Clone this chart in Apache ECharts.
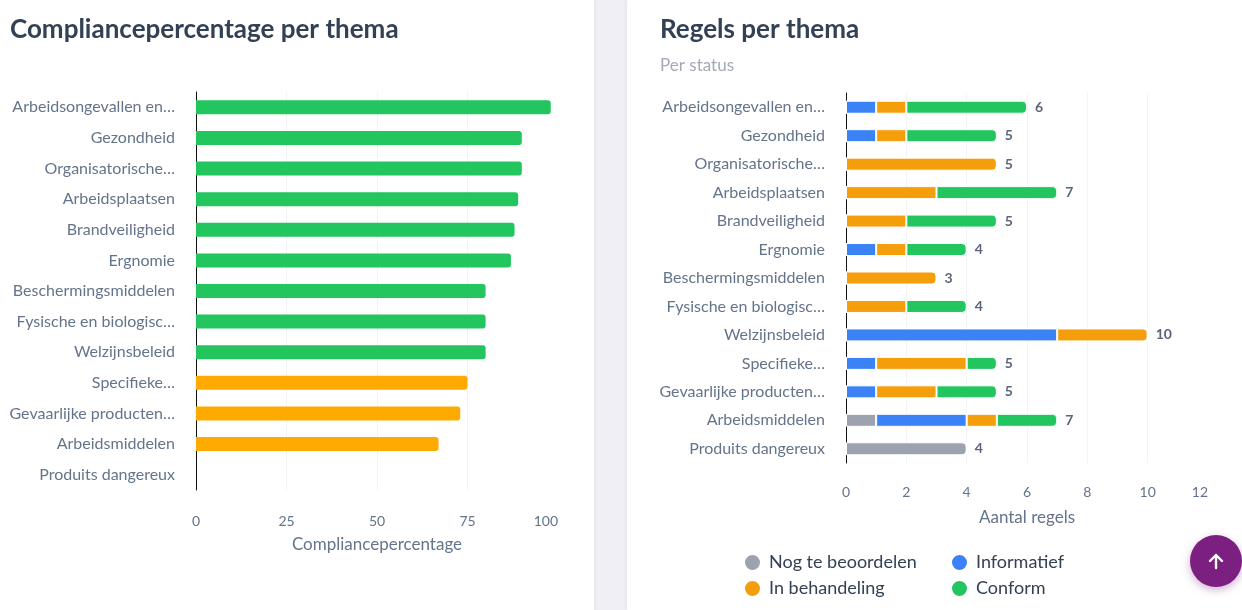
<!DOCTYPE html>
<html lang="nl">
<head>
<meta charset="UTF-8">
<title>Compliance dashboard</title>
<script src="https://cdn.jsdelivr.net/npm/echarts@6/dist/echarts.min.js"></script>
<style>
  html, body { margin: 0; padding: 0; background: #efeff5; width: 1242px; height: 610px; overflow: hidden; }
  .card { position: absolute; top: 0; height: 610px; background: #fff; }
  #leftCard { left: 0; width: 594px; box-shadow: 1px 0 4px rgba(0,0,0,0.06); }
  #rightCard { left: 627px; width: 615px; box-shadow: -1px 0 4px rgba(0,0,0,0.06); }
  .chart { width: 100%; height: 100%; }
  #toTop { position: absolute; left: 1190px; top: 535px; width: 52px; height: 52px; border-radius: 50%;
           background: #7b1f80; box-shadow: 0 3px 8px rgba(123,31,128,0.35); }
  #toTop svg { position: absolute; left: 16px; top: 16px; }
</style>
</head>
<body>
<div class="card" id="leftCard"><div id="compliance" class="chart"></div></div>
<div class="card" id="rightCard"><div id="regels" class="chart"></div></div>
<div id="toTop"><svg width="20" height="20" viewBox="0 0 20 20"><path d="M10 17V4M4 10l6-6 6 6" stroke="#fff" stroke-width="2.4" fill="none" stroke-linecap="round" stroke-linejoin="round"/></svg></div>

<script type="text/javascript">
    var FONT = 'Lato, "Noto Sans", sans-serif';

    // thema's (zoals ze op de as staan)
    var themas = ['Arbeidsongevallen en…', 'Gezondheid', 'Organisatorische…', 'Arbeidsplaatsen',
        'Brandveiligheid', 'Ergnomie', 'Beschermingsmiddelen', 'Fysische en biologisc…',
        'Welzijnsbeleid', 'Specifieke…', 'Gevaarlijke producten…', 'Arbeidsmiddelen', 'Produits dangereux'];

    // compliancepercentage per thema
    var compliance = [98, 90, 90, 89, 88, 87, 80, 80, 80, 75, 73, 67, 0];

    // regels per status
    var statusNamen = ['Nog te beoordelen', 'Informatief', 'In behandeling', 'Conform'];
    var nogTeBeoordelen = [0, 0, 0, 0, 0, 0, 0, 0, 0, 0, 0, 1, 4];
    var informatief     = [1, 1, 0, 0, 0, 1, 0, 0, 7, 1, 1, 3, 0];
    var inBehandeling   = [1, 1, 5, 3, 2, 1, 3, 2, 3, 3, 2, 1, 0];
    var conform         = [4, 3, 0, 4, 3, 2, 0, 2, 0, 1, 2, 2, 0];

    var xTicksLeft = [0, 100, 25];   // min, max, interval
    var xTicksRight = [0, 12, 2];

    var statusKleuren = ['#9ca3af', '#3b82f6', '#f59e0b', '#22c55e'];

    // ---------- links: compliancepercentage ----------
    var chart1 = echarts.init(document.getElementById('compliance'));
    var option1 = {
        textStyle: { fontFamily: FONT },
        animation: false,
        title: {
            text: 'Compliancepercentage per thema',
            left: 5, top: 12,
            textStyle: { fontFamily: FONT, fontSize: 26, fontWeight: 'bold', color: '#334155' }
        },
        grid: { left: 196, right: 36, top: 92, bottom: 120 },
        xAxis: {
            type: 'value',
            min: xTicksLeft[0], max: xTicksLeft[1], interval: xTicksLeft[2],
            axisLine: { show: false },
            axisTick: { show: false },
            splitLine: { showMaxLine: false, lineStyle: { color: '#f1f3f7' } },
            axisLabel: { color: '#64748b', fontSize: 14, margin: 24, alignMaxLabel: 'right', fontFamily: FONT },
            name: 'Compliancepercentage',
            nameLocation: 'middle',
            nameGap: 46,
            nameTextStyle: { color: '#64748b', fontSize: 17, fontFamily: FONT }
        },
        yAxis: {
            type: 'category',
            inverse: true,
            data: themas,
            axisLine: { lineStyle: { color: '#111', width: 1 } },
            axisTick: { show: false },
            axisLabel: { color: '#64748b', fontSize: 16, margin: 21, fontFamily: FONT }
        },
        series: [{
            type: 'bar',
            barWidth: 14,
            data: compliance.map(function (v) {
                return { value: v, itemStyle: { color: v >= 80 ? '#22c55e' : '#ffaa00', borderRadius: [0, 3, 3, 0] } };
            })
        }]
    };
    chart1.setOption(option1);

    // ---------- rechts: regels per thema ----------
    var chart2 = echarts.init(document.getElementById('regels'));
    var reeksen = [nogTeBeoordelen, informatief, inBehandeling, conform];

    // laatste segment per thema krijgt afgeronde hoek + totaal
    var laatste = themas.map(function (t, i) {
        var idx = -1;
        for (var s = 0; s < reeksen.length; s++) { if (reeksen[s][i] > 0) idx = s; }
        return idx;
    });
    var totalen = themas.map(function (t, i) {
        return reeksen.reduce(function (a, r) { return a + r[i]; }, 0);
    });

    var series2 = reeksen.map(function (r, s) {
        return {
            name: statusNamen[s],
            type: 'bar',
            stack: 'totaal',
            barWidth: 13,
            itemStyle: { color: statusKleuren[s], borderColor: '#fff', borderWidth: 1 },
            data: r.map(function (v, i) {
                if (laatste[i] !== s) return v;
                return {
                    value: v,
                    itemStyle: { borderRadius: [0, 4, 4, 0] },
                    label: {
                        show: true, position: 'right', distance: 8,
                        formatter: String(totalen[i]),
                        color: '#5b6478', fontSize: 14, fontWeight: 'bold', fontFamily: FONT
                    }
                };
            })
        };
    });

    var legendStyle = { color: '#334155', fontSize: 18, fontFamily: FONT, padding: [0, 0, 0, 3] };
    var option2 = {
        textStyle: { fontFamily: FONT },
        animation: false,
        color: statusKleuren,
        title: {
            text: 'Regels per thema',
            subtext: 'Per status',
            left: 28, top: 12, itemGap: 14,
            textStyle: { fontFamily: FONT, fontSize: 26, fontWeight: 'bold', color: '#334155' },
            subtextStyle: { fontFamily: FONT, fontSize: 17, color: '#a3aab5' }
        },
        legend: [{
            data: ['Nog te beoordelen', 'In behandeling'],
            orient: 'vertical', left: 111, top: 548, itemGap: 7,
            icon: 'circle', itemWidth: 17, itemHeight: 17,
            textStyle: legendStyle
        }, {
            data: ['Informatief', 'Conform'],
            orient: 'vertical', left: 318, top: 548, itemGap: 7,
            icon: 'circle', itemWidth: 17, itemHeight: 17,
            textStyle: legendStyle
        }],
        grid: { left: 219, right: 34, top: 93, bottom: 147 },
        xAxis: {
            type: 'value',
            min: xTicksRight[0], max: xTicksRight[1], interval: xTicksRight[2],
            axisLine: { show: false },
            axisTick: { show: false },
            splitLine: { showMaxLine: false, lineStyle: { color: '#f1f3f7' } },
            axisLabel: { color: '#64748b', fontSize: 14, margin: 22, alignMaxLabel: 'right', fontFamily: FONT },
            name: 'Aantal regels',
            nameLocation: 'middle',
            nameGap: 46,
            nameTextStyle: { color: '#64748b', fontSize: 17, fontFamily: FONT }
        },
        yAxis: {
            type: 'category',
            inverse: true,
            data: themas,
            axisLine: { lineStyle: { color: '#111', width: 1 } },
            axisTick: { show: false },
            axisLabel: { color: '#64748b', fontSize: 16, margin: 21, fontFamily: FONT }
        },
        series: series2
    };
    chart2.setOption(option2);

    window.addEventListener('resize', function () {
        chart1.resize();
        chart2.resize();
    });
</script>
</body>
</html>
